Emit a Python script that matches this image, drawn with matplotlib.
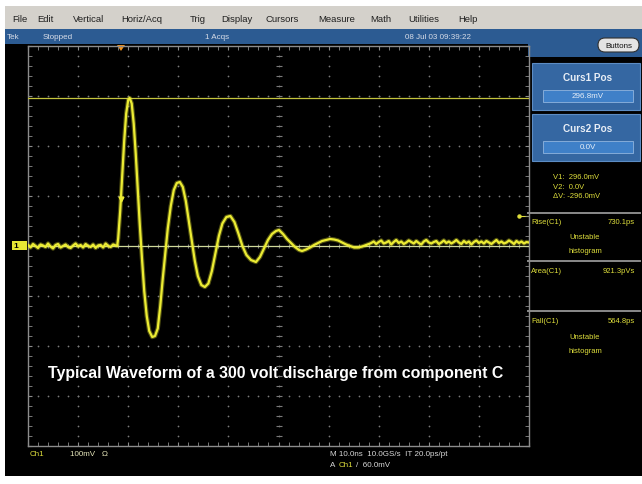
import numpy as np
import matplotlib
matplotlib.use("Agg")
import matplotlib.pyplot as plt
from matplotlib.patches import Rectangle, FancyBboxPatch, Polygon

plt.rcParams['font.family'] = ['Liberation Sans', 'DejaVu Sans']

# scope settings: 10 ns/div across 10 divs, 100 mV/div over 8 divs
ns_per_div = 10
mv_per_div = 100
cursor1_mv = 296.0
cursor2_mv = 0.0
trig_level_mv = 60.0
trig_time_ns = 18.6

# pre-trigger baseline, sampled every 0.5 ns from t = 0
pre_mv = [2, -3, 4, 0, -4, 3, 1, -2, 5, -1, -5, 2, 4, -3, 0, 3, -2, -4,
          1, 5, -1, 2, -3, 4, 0, -2, 3, -4, 1, 2, -3, 5, 0, -2, 3, 1]

# the discharge ringing
ring_ns = [17.8, 18.0, 18.4, 18.8, 19.2, 19.6, 20.0, 20.3, 20.7, 21.1, 21.5,
           21.9, 22.3, 22.75, 23.2, 23.7, 24.2, 24.8, 25.35, 25.9, 26.4, 26.9,
           27.4, 27.9, 28.5, 29.1, 29.7, 30.3, 30.9, 31.5, 32.1, 32.7, 33.3,
           33.9, 34.6, 35.3, 36.0, 36.7, 37.4, 38.1, 38.8, 39.6, 40.4, 41.2,
           42.0, 42.8, 43.6, 44.5, 45.5, 46.3, 47.1, 47.9, 48.7, 49.5, 50.1,
           50.9, 51.7, 52.5, 53.3, 54.1, 54.7, 55.5, 56.3, 57.1, 57.9, 58.7,
           59.5, 60.3, 61.1, 61.9, 62.7, 63.5, 64.3, 65.1, 65.9, 66.7, 67.5,
           68.3]
ring_mv = [0, 15, 70, 140, 210, 265, 292, 296, 285, 245, 185,
           115, 45, -25, -90, -140, -170, -182, -180, -165, -120, -65,
           -15, 35, 80, 112, 126, 128, 118, 90, 50, 10, -30,
           -60, -78, -82, -75, -50, -15, 20, 45, 58, 60, 48,
           25, 0, -18, -28, -32, -22, -5, 12, 24, 30, 32,
           24, 14, 6, -2, -8, -10, -7, -3, 2, 6, 10,
           12, 14, 13, 11, 7, 3, 0, -3, -3, -1, 2,
           5]

# settled tail, sampled every 0.5 ns from t = 68.5
tail_mv = [6, 9, 4, 8, 11, 5, 7, 10, 3, 8, 12, 6, 9, 4, 7, 11, 8, 5, 10, 6,
           3, 9, 12, 7, 5, 8, 10, 4, 7, 11, 6, 9, 5, 8, 12, 7, 4, 10, 6, 9,
           3, 8, 11, 6, 9, 5, 10, 7, 4, 8, 12, 6, 9, 5, 7, 11, 8, 4, 10, 6,
           9, 5, 8, 7]

menu_items = ["File", "Edit", "Vertical", "Horiz/Acq", "Trig", "Display",
              "Cursors", "Measure", "Math", "Utilities", "Help"]
menu_x = [12, 37, 73, 121, 190, 221, 265, 318, 370, 408, 458]

W, H = 642, 485
fig = plt.figure(figsize=(W / 100, H / 100), dpi=100)
fig.patch.set_facecolor('white')

# frame axes in pixel units
ax0 = fig.add_axes([0, 0, 1, 1])
ax0.set_xlim(0, W)
ax0.set_ylim(H, 0)
ax0.axis('off')

ax0.add_patch(Rectangle((5, 7), W - 5, 23, fc='#d4d1cb', ec='none'))
ax0.add_patch(Rectangle((5, 30), W - 5, 447, fc='black', ec='none'))
ax0.add_patch(Rectangle((5, 30), W - 5, 15, fc='#2c5b92', ec='none'))
ax0.add_patch(Rectangle((528, 30), W - 528, 28, fc='#2c5b92', ec='none'))

for name, x in zip(menu_items, menu_x):
    ax0.text(x, 19, name, fontsize=6.8, color='#202020', va='center')

for s, x in [("Tek", 7), ("Stopped", 43), ("1 Acqs", 205),
             ("08 Jul 03 09:39:22", 405)]:
    ax0.text(x, 37.5, s, fontsize=5.8, color='#d8dde8', va='center')

ax0.add_patch(FancyBboxPatch((598, 39), 41, 14, boxstyle="round,pad=0,rounding_size=7",
                             fc='#e4e4e4', ec='#303030', lw=0.8))
ax0.text(618.5, 46.5, "Buttons", fontsize=5.8, color='#101010', ha='center', va='center')

# cursor position boxes
for y0, title, val in [(64, "Curs1 Pos", "296.8mV"), (115, "Curs2 Pos", "0.0V")]:
    ax0.add_patch(Rectangle((532, y0), 108, 47, fc='#3567a2', ec='#5c8cc4', lw=0.8))
    ax0.text(588, y0 + 14, title, fontsize=7.2, color='#e8eef6', ha='center',
             va='center', fontweight='bold')
    ax0.add_patch(Rectangle((543, y0 + 27), 90, 12, fc='#3f80c8', ec='#8fb4de', lw=0.6))
    ax0.text(588, y0 + 33, val, fontsize=5.8, color='#e6eef8', ha='center', va='center')

yel = '#dede3c'
for y, s in [(178, "V1:  296.0mV"), (188, "V2:  0.0V"), (197, "ΔV: -296.0mV")]:
    ax0.text(553, y, s, fontsize=5.5, color=yel, va='center')

for y in [214, 262, 312]:
    ax0.plot([528, 640], [y, y], color='#8a8a8a', lw=1.4)

meas = [(223, "Rise(C1)", "730.1ps"), (272, "Area(C1)", "921.3pVs"),
        (322, "Fall(C1)", "564.8ps")]
for y, name, val in meas:
    ax0.text(531, y, name, fontsize=5.5, color=yel, va='center')
    ax0.text(635, y, val, fontsize=5.5, color=yel, va='center', ha='right')
for y in [238, 338]:
    ax0.text(585, y, "Unstable", fontsize=5.5, color=yel, va='center', ha='center')
    ax0.text(585, y + 14, "histogram", fontsize=5.5, color=yel, va='center', ha='center')

ax0.text(30, 455, "Ch1", fontsize=5.8, color=yel, va='center')
ax0.text(70, 455, "100mV   Ω", fontsize=5.8, color='#e4e4b8', va='center')
ax0.text(330, 455, "M 10.0ns  10.0GS/s  IT 20.0ps/pt", fontsize=5.8, color='#d8d8d8', va='center')
ax0.text(330, 466, "A", fontsize=5.8, color='#d8d8d8', va='center')
ax0.text(339, 466, "Ch1", fontsize=5.8, color=yel, va='center')
ax0.text(356, 466, "/  60.0mV", fontsize=5.8, color='#d8d8d8', va='center')

# graticule axes
gx0, gx1, gy0, gy1 = 28, 529, 47, 447
ax = fig.add_axes([gx0 / W, 1 - gy1 / H, (gx1 - gx0) / W, (gy1 - gy0) / H])
ax.set_facecolor('none')
t_max = 10 * ns_per_div
v_max = 4 * mv_per_div
ax.set_xlim(0, t_max)
ax.set_ylim(-v_max, v_max)
for sp in ax.spines.values():
    sp.set_color('#8c8c8c')
    sp.set_linewidth(1.0)
ax.set_xticks(np.arange(0, t_max + 1, ns_per_div))
ax.set_xticks(np.arange(0, t_max + 0.1, ns_per_div / 5), minor=True)
ax.set_yticks(np.arange(-v_max, v_max + 1, mv_per_div))
ax.set_yticks(np.arange(-v_max, v_max + 0.1, mv_per_div / 5), minor=True)
ax.tick_params(which='both', direction='in', length=3, color='#8c8c8c',
               top=True, right=True, labelbottom=False, labelleft=False)

grid_c = '#7a7a7a'
minor_t = np.arange(0, t_max + 0.1, ns_per_div / 5)
minor_v = np.arange(-v_max, v_max + 0.1, mv_per_div / 5)
for xt in np.arange(ns_per_div, t_max, ns_per_div):
    ax.scatter(np.full_like(minor_v, xt), minor_v, s=1.6, color=grid_c, lw=0)
for yv in np.arange(-v_max + mv_per_div, v_max, mv_per_div):
    ax.scatter(minor_t, np.full_like(minor_t, yv), s=1.6, color=grid_c, lw=0)
# centre cross with minor tick marks
ax.scatter(np.full_like(minor_v, t_max / 2), minor_v, marker='_', s=14, color=grid_c, lw=0.8)
ax.scatter(minor_t, np.zeros_like(minor_t), marker='|', s=10, color=grid_c, lw=0.8)

# cursors
ax.axhline(cursor1_mv, color='#c4c43c', lw=0.9, zorder=3)
ax.axhline(cursor2_mv, color='#cfd89a', lw=0.9, zorder=3)

# trace
t_pre = np.arange(len(pre_mv)) * 0.5
t_tail = 68.5 + np.arange(len(tail_mv)) * 0.5
t_all = np.concatenate([t_pre, ring_ns, t_tail])
v_all = np.concatenate([pre_mv, ring_mv, tail_mv])
ax.plot(t_all, v_all, color='#e8e82e', lw=3.2, alpha=0.35, zorder=4, solid_capstyle='butt')
ax.plot(t_all, v_all, color='#ecec34', lw=1.6, zorder=5)

# rise measurement marker
ax.plot([trig_time_ns], [95], marker='v', ms=3.5, color='#ecec34', zorder=6, clip_on=False)

ax.set_zorder(2)
ax0.set_zorder(1)

# channel ground marker, trigger level and trigger position markers
ax0.add_patch(Rectangle((12, 242), 15, 9, fc='#e6e634', ec='none', zorder=7))
ax0.text(16, 246.5, "1", fontsize=6, color='black', va='center', ha='center',
         fontweight='bold', zorder=8)
ax0.add_patch(Polygon([[117, 46], [125, 46], [121, 52]], closed=True, fc='#f0901c', ec='none', zorder=7))

title = "Typical Waveform of a 300 volt discharge from component C"
ax0.text(276, 374, title, fontsize=11.4, color='white', fontweight='bold',
         ha='center', va='center', zorder=6)

trig_y = 247 - trig_level_mv / mv_per_div * 50
ax0.plot([519, 528], [trig_y, trig_y], color='#dede3c', lw=0.8, zorder=7)
ax0.plot([519], [trig_y], marker='o', ms=2.2, color='#dede3c', zorder=7)

fig.savefig("out.png", dpi=100, facecolor=fig.get_facecolor())
